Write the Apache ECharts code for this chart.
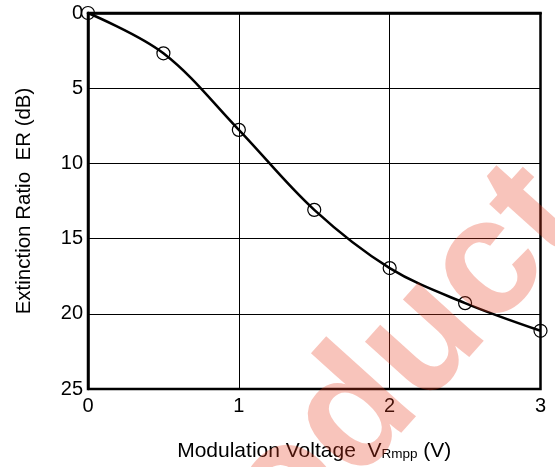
<!DOCTYPE html>
<html>
<head>
<meta charset="utf-8">
<script src="https://cdn.jsdelivr.net/npm/echarts@6/dist/echarts.min.js"></script>
<style>
html,body{margin:0;padding:0;background:#fff;}
#chart{width:555px;height:467px;}
</style>
</head>
<body>
<div id="chart"></div>
<script>
const voltage = [0, 0.5, 1, 1.5, 2, 2.5, 3];
const extinctionRatio = [0, 2.68, 7.77, 13.09, 16.96, 19.29, 21.13];
const xTicks = [0, 1, 2, 3];
const yTicks = [0, 5, 10, 15, 20, 25];
const xAxisTitle = 'Modulation Voltage  ';
const xAxisSub = 'Rmpp';
const yAxisTitle = 'Extinction Ratio  ER (dB)';
const watermark = 'Product';

const font = '"Liberation Sans", Arial, sans-serif';
const chart = echarts.init(document.getElementById('chart'), null, {renderer: 'canvas'});
const pts = voltage.map((v, i) => [v, extinctionRatio[i]]);

chart.setOption({
  animation: false,
  backgroundColor: '#fff',
  grid: {left: 88, right: 14.5, top: 13, bottom: 77.5, show: true, borderColor: '#000', borderWidth: 2.5, backgroundColor: 'transparent'},
  xAxis: {
    type: 'value', min: xTicks[0], max: xTicks[xTicks.length - 1], interval: 1,
    axisLine: {show: true, lineStyle: {color: '#000', width: 2.5}},
    axisTick: {show: false},
    splitLine: {show: true, lineStyle: {color: '#000', width: 1}},
    axisLabel: {color: '#000', fontSize: 20, fontFamily: font, margin: 7},
    name: '{a|' + xAxisTitle + 'V}{s|' + xAxisSub + '}{a| (V)}',
    nameLocation: 'middle', nameGap: 49,
    nameTextStyle: {
      rich: {
        a: {fontSize: 21, fontFamily: font, color: '#000', verticalAlign: 'bottom', lineHeight: 24},
        s: {fontSize: 13.5, fontFamily: font, color: '#000', verticalAlign: 'bottom', lineHeight: 24, padding: [0, 0, 1, 0]}
      }
    }
  },
  yAxis: {
    type: 'value', inverse: true, min: yTicks[0], max: yTicks[yTicks.length - 1], interval: 5,
    axisLine: {show: true, lineStyle: {color: '#000', width: 2.5}},
    axisTick: {show: false},
    splitLine: {show: true, lineStyle: {color: '#000', width: 1}},
    axisLabel: {color: '#000', fontSize: 20, fontFamily: font, margin: 5},
    name: yAxisTitle, nameLocation: 'middle', nameGap: 53,
    nameTextStyle: {fontSize: 20.5, fontFamily: font, color: '#000'}
  },
  series: [{
    type: 'line', data: pts, smooth: 0.35, clip: false,
    lineStyle: {color: '#000', width: 2.5},
    symbol: 'circle', symbolSize: 13,
    itemStyle: {color: 'rgba(0,0,0,0)', borderColor: '#000', borderWidth: 1.2},
    z: 3
  }],
  graphic: [{
    type: 'text', x: 198, y: 714, rotation: 48 * Math.PI / 180, z: 100,
    silent: true,
    style: {text: watermark, font: 'bold 166px ' + font, fill: 'rgba(232,60,30,0.3)', textAlign: 'left', textVerticalAlign: 'bottom'}
  }]
});
</script>
</body>
</html>
